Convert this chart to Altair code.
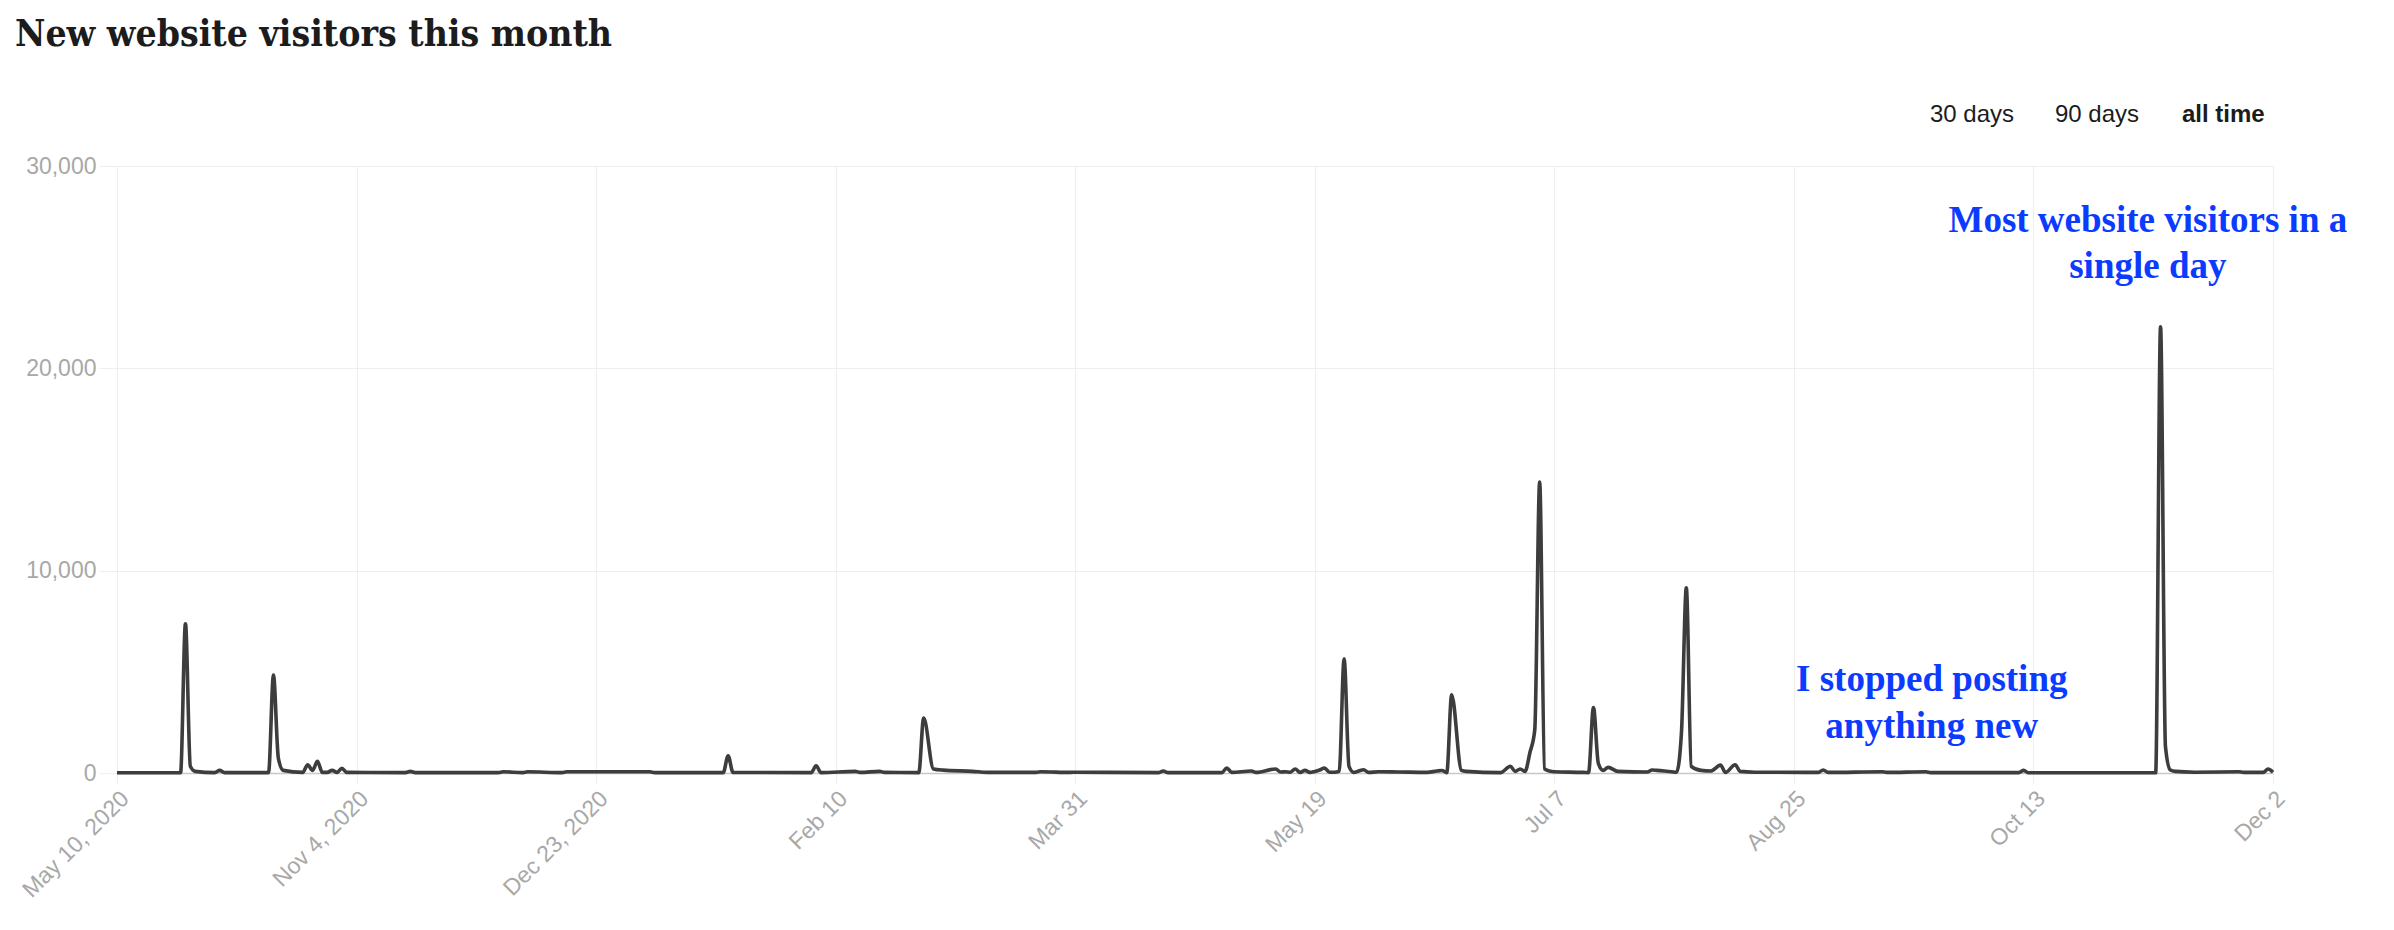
import altair as alt
import pandas as pd

# ---------------- data ----------------
title_text = "New website visitors this month"

tick_days = [0, 49, 98, 147, 196, 245, 294, 343, 392, 441]
tick_labels = ["May 10, 2020", "Nov 4, 2020", "Dec 23, 2020", "Feb 10", "Mar 31",
               "May 19", "Jul 7", "Aug 25", "Oct 13", "Dec 2"]

y_ticks = [0, 10000, 20000, 30000]

# vertices of the daily series (day index, visitors), 10 per row
days = [
    0, 13, 14, 15, 16, 20, 21, 22, 31, 32,
    33, 34, 38, 39, 40, 41, 42, 43, 44, 45,
    46, 47, 59, 60, 61, 78, 79, 83, 84, 91,
    92, 109, 110, 124, 125, 126, 142, 143, 144, 151,
    152, 156, 157, 164, 165, 167, 169, 175, 178, 188,
    189, 195, 196, 213, 214, 215, 226, 227, 228, 232,
    233, 237, 238, 239, 240, 241, 242, 243, 244, 245,
    246, 247, 248, 249, 250, 251, 252, 253, 254, 255,
    256, 258, 262, 268, 270, 271, 272, 273, 275, 276,
    283, 285, 286, 287, 288, 289, 290, 291, 292, 293,
    294, 300, 301, 302, 303, 304, 305, 307, 313, 314,
    315, 318, 319, 320, 321, 322, 324, 326, 328, 329,
    331, 332, 335, 348, 349, 350, 361, 362, 370, 371,
    389, 390, 391, 417, 418, 419, 420, 421, 425, 434,
    435, 439, 440, 441,
]
visitors = [
    10, 10, 7380, 330, 80, 20, 130, 20, 20, 4840,
    740, 130, 30, 410, 130, 575, 30, 30, 130, 30,
    230, 30, 20, 80, 20, 20, 60, 20, 60, 20,
    60, 60, 20, 20, 855, 30, 20, 360, 20, 80,
    30, 80, 30, 20, 2720, 200, 140, 80, 30, 30,
    60, 30, 40, 20, 100, 20, 20, 250, 30, 100,
    30, 200, 50, 60, 40, 200, 30, 130, 30, 80,
    150, 250, 40, 40, 80, 5650, 330, 30, 100, 160,
    30, 60, 50, 30, 100, 120, 20, 3870, 130, 80,
    20, 330, 80, 200, 80, 1000, 2140, 14375, 200, 100,
    60, 30, 20, 3240, 480, 130, 280, 80, 50, 150,
    130, 60, 40, 1980, 9150, 330, 130, 100, 390, 30,
    410, 80, 40, 30, 150, 30, 60, 30, 60, 20,
    20, 130, 10, 10, 22050, 1310, 150, 80, 40, 60,
    30, 30, 200, 40,
]

ann_text = ["Most website visitors in a", "single day", "I stopped posting", "anything new"]
ann_day = [415.4, 415.4, 371.2, 371.2]
ann_val = [26723, 24484, 4034, 1730]

range_buttons = ["30 days", "90 days", "all time"]

# ---------------- chart ----------------
W, H = 2156, 607

line_df = pd.DataFrame({"day": days, "visitors": visitors})
ann_df = pd.DataFrame({"day": ann_day, "visitors": ann_val, "text": ann_text})

label_expr = "[" + ",".join("'%s'" % l for l in tick_labels) + "][round(datum.value / 49)]"

x_enc = alt.X(
    "day:Q",
    title=None,
    scale=alt.Scale(domain=[0, 441], nice=False, zero=False),
    axis=alt.Axis(values=tick_days, labelExpr=label_expr, labelAngle=-45,
                  labelAlign="right", labelBaseline="top", labelPadding=4,
                  tickSize=10, domain=True, domainColor="#c8c8c8", domainWidth=1.5,
                  grid=True),
)
y_enc = alt.Y(
    "visitors:Q",
    title=None,
    scale=alt.Scale(domain=[0, 30000], nice=False),
    axis=alt.Axis(values=y_ticks, format=",.0f", domain=False, tickSize=18,
                  labelPadding=3, grid=True),
)

line = alt.Chart(line_df).mark_line(
    color="#3d3d3d", strokeWidth=3.6, interpolate="monotone", strokeJoin="round"
).encode(x=x_enc, y=y_enc)

ann = alt.Chart(ann_df).mark_text(
    font="Liberation Serif", fontWeight="bold", fontSize=37, color="#0b3bff",
    align="center", baseline="alphabetic", clip=False
).encode(x=x_enc, y=y_enc, text="text:N")

title_mark = alt.Chart(pd.DataFrame({"t": [title_text]})).mark_text(
    align="left", baseline="alphabetic", font="DejaVu Serif Condensed",
    fontSize=37, fontWeight="bold", color="#1c1c1c"
).encode(x=alt.value(-102), y=alt.value(-120), text="t:N")

btn_x = [1813, 1938, 2065]
btn_layers = []
for i, b in enumerate(range_buttons):
    btn_layers.append(
        alt.Chart(pd.DataFrame({"t": [b]})).mark_text(
            align="left", baseline="alphabetic", font="Liberation Sans", fontSize=24,
            fontWeight="bold" if b == "all time" else "normal", color="#1c1c1c"
        ).encode(x=alt.value(btn_x[i]), y=alt.value(-44), text="t:N")
    )

chart = alt.layer(line, ann, title_mark, *btn_layers).properties(
    width=W, height=H,
    autosize=alt.AutoSizeParams(type="none"),
    padding={"left": 109, "top": 158, "right": 105, "bottom": 150},
).configure_view(stroke=None).configure_axis(
    labelFont="Liberation Sans", labelFontSize=23, labelColor="#a8a8a8",
    gridColor="#efefef", gridWidth=1.2, tickColor="#efefef", tickWidth=1.2,
)

chart.save("out.html", embed_options={"renderer": "svg", "actions": False})
